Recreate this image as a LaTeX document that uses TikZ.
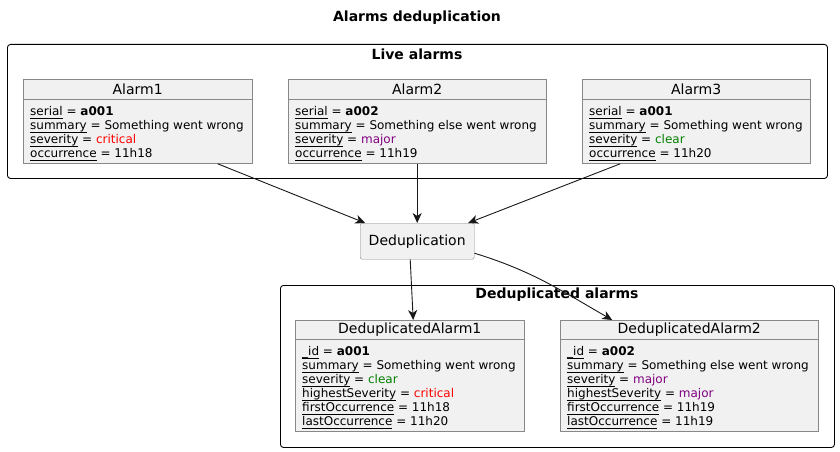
\documentclass[tikz,border=0pt]{standalone}
\usepackage{fontspec}
\setmainfont{DejaVu Sans}
\usetikzlibrary{arrows.meta}

\definecolor{boxfill}{HTML}{F1F1F1}
\definecolor{boxline}{HTML}{888888}
\definecolor{linecol}{HTML}{181818}
\definecolor{critcol}{HTML}{FF0000}
\definecolor{majorcol}{HTML}{800080}
\definecolor{clearcol}{HTML}{008000}

\newlength{\fldwd}
\newcommand{\fld}[1]{\settowidth{\fldwd}{#1}\rlap{\rule[-2.6pt]{\fldwd}{0.8pt}}#1}

\begin{document}
\begin{tikzpicture}[
                            x=1pt, y=-1pt,
                            >={Stealth[length=10pt,width=9pt,inset=3pt]},
                            frame/.style={draw=black, rounded corners=3pt, line width=0.9pt, anchor=north west, inner sep=0pt},
                            frametitle/.style={font=\fontsize{14}{16}\selectfont\bfseries},
                            classhead/.style={draw=boxline, fill=boxfill, anchor=north west, inner sep=0pt, minimum height=20pt, font=\fontsize{14}{16}\selectfont},
                            classbody/.style={draw=boxline, fill=boxfill, anchor=north west, inner sep=0pt},
                            attrs/.style={anchor=north west, inner sep=0pt, align=left, font=\fontsize{12}{14}\selectfont},
                            procbox/.style={draw=boxline, fill=boxfill, rounded corners=2pt, anchor=north west, inner sep=0pt, font=\fontsize{14}{16}\selectfont},
                            link/.style={->, draw=linecol, line width=0.9pt}
                            ]
                            \useasboundingbox (0,0) rectangle (840,452);

                            \node [frametitle] (title) at (417,18) {Alarms deduplication};

                            \node [frame, minimum width=820pt, minimum height=134pt] (live) at (7,44) {};
                            \node [frametitle] (livetitle) at (417,54) {Live alarms};

                            \node [classhead, minimum width=229pt] (a1h) at (23,79) {Alarm1};
                            \node [classbody, minimum width=229pt, minimum height=64pt] (a1b) at (a1h.south west) {};
                            \node [attrs] (a1t) at ([shift={(7,7)}]a1b.north west) {\fld{serial} = \textbf{a001}\\ \fld{summary} = Something went wrong\\ \fld{severity} = \textcolor{critcol}{critical}\\ \fld{occurrence} = 11h18};

                            \node [classhead, minimum width=258pt] (a2h) at (288,79) {Alarm2};
                            \node [classbody, minimum width=258pt, minimum height=64pt] (a2b) at (a2h.south west) {};
                            \node [attrs] (a2t) at ([shift={(7,7)}]a2b.north west) {\fld{serial} = \textbf{a002}\\ \fld{summary} = Something else went wrong\\ \fld{severity} = \textcolor{majorcol}{major}\\ \fld{occurrence} = 11h19};

                            \node [classhead, minimum width=228pt] (a3h) at (582,79) {Alarm3};
                            \node [classbody, minimum width=228pt, minimum height=64pt] (a3b) at (a3h.south west) {};
                            \node [attrs] (a3t) at ([shift={(7,7)}]a3b.north west) {\fld{serial} = \textbf{a001}\\ \fld{summary} = Something went wrong\\ \fld{severity} = \textcolor{clearcol}{clear}\\ \fld{occurrence} = 11h20};

                            \node [procbox, minimum width=114pt, minimum height=36pt] (dedup) at (360,223) {Deduplication};

                            \node [frame, minimum width=554pt, minimum height=162pt] (dedupframe) at (280,285) {};
                            \node [frametitle] (deduptitle) at (557,295) {Deduplicated alarms};

                            \node [classhead, minimum width=229pt, minimum height=19pt] (d1h) at (295,320) {DeduplicatedAlarm1};
                            \node [classbody, minimum width=229pt, minimum height=92pt] (d1b) at (d1h.south west) {};
                            \node [attrs] (d1t) at ([shift={(7,7)}]d1b.north west) {\fld{\_id} = \textbf{a001}\\ \fld{summary} = Something went wrong\\ \fld{severity} = \textcolor{clearcol}{clear}\\ \fld{highestSeverity} = \textcolor{critcol}{critical}\\ \fld{firstOccurrence} = 11h18\\ \fld{lastOccurrence} = 11h20};

                            \node [classhead, minimum width=258pt, minimum height=19pt] (d2h) at (560,320) {DeduplicatedAlarm2};
                            \node [classbody, minimum width=258pt, minimum height=92pt] (d2b) at (d2h.south west) {};
                            \node [attrs] (d2t) at ([shift={(7,7)}]d2b.north west) {\fld{\_id} = \textbf{a002}\\ \fld{summary} = Something else went wrong\\ \fld{severity} = \textcolor{majorcol}{major}\\ \fld{highestSeverity} = \textcolor{majorcol}{major}\\ \fld{firstOccurrence} = 11h19\\ \fld{lastOccurrence} = 11h19};

                            \draw[link] ([xshift=80pt]a1b.south) -- ([xshift=-52pt]dedup.north);
                            \draw[link] (a2b.south) -- (dedup.north);
                            \draw[link] ([xshift=-76pt]a3b.south) -- ([xshift=51pt]dedup.north);
                            \draw[link] ([xshift=-7pt]dedup.south) -- ([xshift=3.5pt]d1h.north);
                            \draw[link] ([yshift=-12pt]dedup.east) to[out=-17, in=150] ([xshift=-77pt]d2h.north);
                        \end{tikzpicture}
\end{document}
